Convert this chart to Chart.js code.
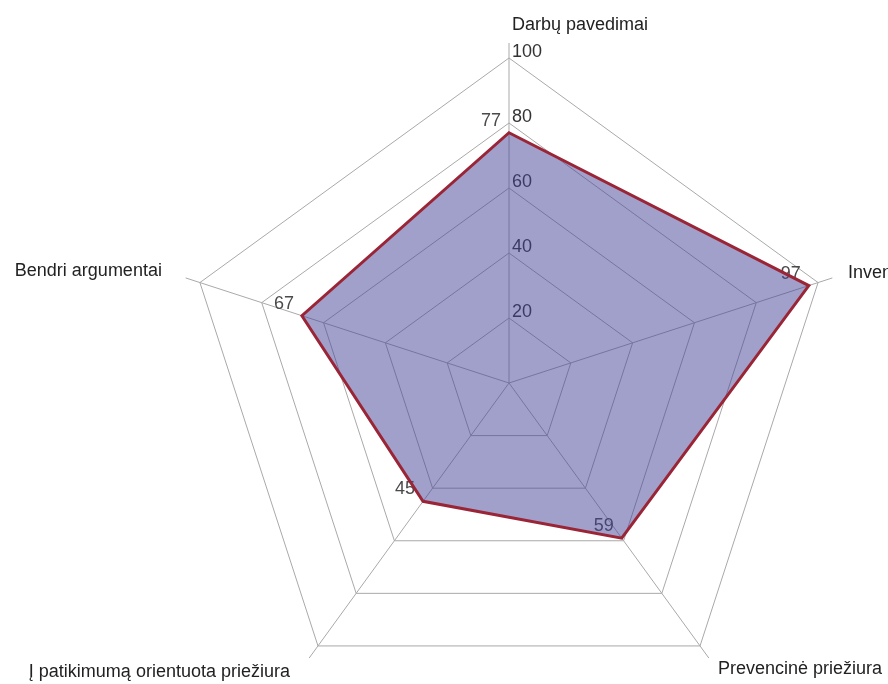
<!DOCTYPE html>
<html lang="lt">
<head>
<meta charset="utf-8">
<title>Priežiūros vertinimas</title>
<script src="https://cdn.jsdelivr.net/npm/chart.js@4.4.1/dist/chart.umd.min.js"></script>
<style>
  html, body { margin: 0; padding: 0; background: #fff; overflow: hidden; }
  #wrap { position: relative; width: 888px; height: 740px; }
</style>
</head>
<body>
<div id="wrap"><canvas id="radar"></canvas></div>
<script>
// Categories around the radar (clockwise from the top)
const categories = [
  'Darbų pavedimai',
  'Inventorius',
  'Prevencinė priežiura',
  'Į patikimumą orientuota priežiura',
  'Bendri argumentai'
];
// Score for each category
const scores = [77, 97, 59, 45, 67];
// Ring values shown along the vertical axis
const tickValues = [20, 40, 60, 80, 100];

const FONT = '"Liberation Sans", Arial, sans-serif';
const GRID = '#a9a9a9';

// Where each category caption sits relative to its outer vertex
const captionPlacement = [
  { dx: 3,   dy: -33, align: 'left'  },
  { dx: 30,  dy: -10, align: 'left'  },
  { dx: 18,  dy: 23,  align: 'left'  },
  { dx: -28, dy: 26,  align: 'right' },
  { dx: -38, dy: -12, align: 'right' }
];

// Spokes (extended a little past the outer ring), ring values and point values
const decorations = {
  id: 'decorations',
  beforeDatasetsDraw(chart) {
    const s = chart.scales.r;
    const ctx = chart.ctx;
    ctx.save();

    // spokes
    ctx.strokeStyle = GRID;
    ctx.lineWidth = 1;
    for (let i = 0; i < categories.length; i++) {
      const p = s.getPointPosition(i, s.drawingArea + 15);
      ctx.beginPath();
      ctx.moveTo(s.xCenter, s.yCenter);
      ctx.lineTo(p.x, p.y);
      ctx.stroke();
    }

    // ring values beside the vertical axis
    ctx.font = '18px ' + FONT;
    ctx.fillStyle = '#333';
    ctx.textAlign = 'left';
    ctx.textBaseline = 'alphabetic';
    tickValues.forEach(v => {
      const d = s.getDistanceFromCenterForValue(v);
      ctx.fillText(String(v), s.xCenter + 3, s.yCenter - d - 1);
    });

    // values next to each point
    ctx.fillStyle = '#4a4a4a';
    ctx.textAlign = 'center';
    ctx.textBaseline = 'middle';
    scores.forEach((v, i) => {
      const p = s.getPointPositionForValue(i, v);
      ctx.fillText(String(v), p.x - 18, p.y - 12);
    });

    // category captions
    ctx.fillStyle = '#222';
    categories.forEach((c, i) => {
      const p = s.getPointPosition(i, s.drawingArea);
      const pl = captionPlacement[i];
      ctx.textAlign = pl.align;
      ctx.fillText(c, p.x + pl.dx, p.y + pl.dy);
    });

    ctx.restore();
  }
};

new Chart(document.getElementById('radar'), {
  type: 'radar',
  data: {
    labels: categories,
    datasets: [{
      data: scores,
      backgroundColor: 'rgba(68, 66, 150, 0.5)',
      borderColor: '#9a2536',
      borderWidth: 3,
      pointRadius: 0,
      pointHoverRadius: 0,
      tension: 0
    }]
  },
  options: {
    responsive: true,
    maintainAspectRatio: false,
    animation: false,
    events: [],
    layout: { padding: { left: 184, top: 58, right: 54, bottom: 32 } },
    plugins: {
      legend: { display: false },
      tooltip: { enabled: false }
    },
    scales: {
      r: {
        min: 0,
        max: 100,
        ticks: { stepSize: 20, display: false },
        grid: { color: GRID, lineWidth: 1 },
        angleLines: { display: false },
        pointLabels: { display: false }
      }
    }
  },
  plugins: [decorations]
});
</script>
</body>
</html>
